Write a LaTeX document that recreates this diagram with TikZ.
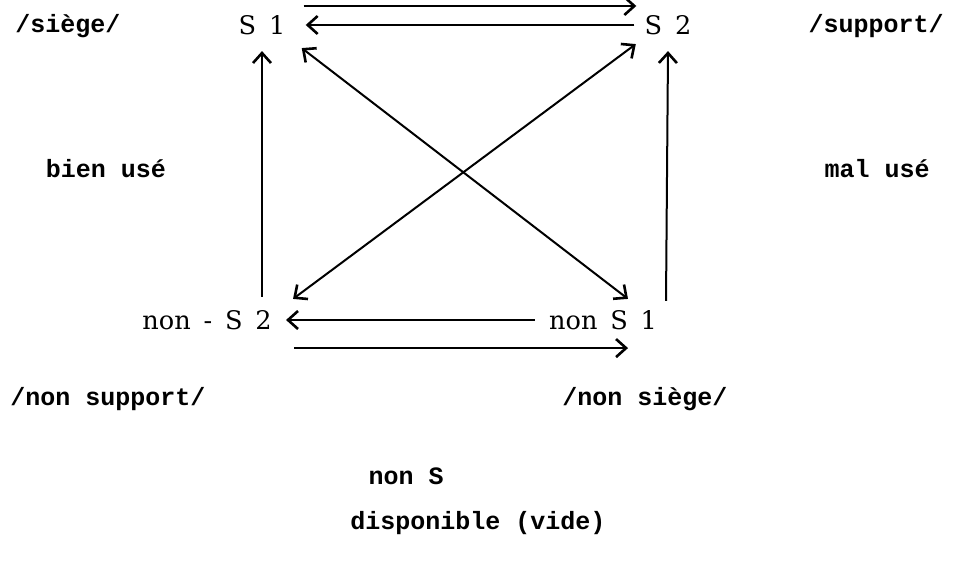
\documentclass[tikz,border=0pt]{standalone}
\usepackage{fontspec}
\setmainfont{DejaVu Serif}
\setmonofont{Liberation Mono}
\usetikzlibrary{arrows.meta,calc}
\tikzset{
  square term/.style={font=\fontsize{12.8}{14}\selectfont, inner sep=0pt},
  square gloss/.style={font=\ttfamily\bfseries\fontsize{12.5}{14}\selectfont,
    inner sep=0pt, anchor=base},
  square arrow/.style={line width=1pt,
    -{Straight Barb[length=5pt,width=9pt,line width=1.3pt]}},
  square pair/.style={square arrow, line width=1.4pt},
  square cross/.style={square arrow,
    {Straight Barb[length=5pt,width=9pt,line width=1.3pt]}-{Straight Barb[length=5pt,width=9pt,line width=1.3pt]}},
}

\begin{document}
\begin{tikzpicture}[x=0.5pt, y=-0.5pt]
  \useasboundingbox (0,0) rectangle (957,576);

  % The four terms of the square.
  \node[square term] (s1) at (262,25) {S\enspace 1};
  \node[square term] (s2) at (668,25) {S\enspace 2};
  \node[square term] (ns2) at (207,320) {non\enspace -\enspace S\enspace 2};
  \node[square term] (ns1) at (603,320) {non\enspace S\enspace 1};

  % Typed glosses round the square.
  \node[square gloss] (siege) at (68,33) {/siège/};
  \node[square gloss] (support) at (876,33) {/support/};
  \node[square gloss] (bien) at (106,178) {bien usé};
  \node[square gloss] (mal) at (877,178) {mal usé};
  \node[square gloss] (nsupport) at (108,406) {/non support/};
  \node[square gloss] (nsiege) at (645,406) {/non siège/};
  \node[square gloss] (nons) at (406,484) {non S};
  \node[square gloss] (vide) at (478,529) {disponible (vide)};

  % Contraries, top and bottom.
  \draw[square pair] ($(s1.east)+(18,-19)$) -- ($(s2.west)+(-8,-19)$);
  \draw[square pair] ($(s2.west)+(-10,0)$) -- ($(s1.east)+(20,0)$);
  \draw[square pair] ($(ns1.west)+(-14,0)$) -- ($(ns2.east)+(14,0)$);
  \draw[square pair] ($(ns2.south east)+(22,18)$) -- ($(ns1.south)+(25,18)$);

  % Implications up the sides.
  \draw[square arrow] ($(s1.south |- ns2.north)+(0,-13)$) -- ($(s1.south)+(0,16)$);
  \draw[square arrow] ($(s2.south |- ns1.north)+(-2,-9)$) -- ($(s2.south)+(0,16)$);

  % Contradictories on the diagonals.
  \draw[square cross] ($(s1.south east)+(16,13)$) -- ($(ns1.north)+(25,-11)$);
  \draw[square cross] ($(s2.south west)+(-8.5,9)$) -- ($(ns2.north east)+(21,-11)$);
\end{tikzpicture}
\end{document}
